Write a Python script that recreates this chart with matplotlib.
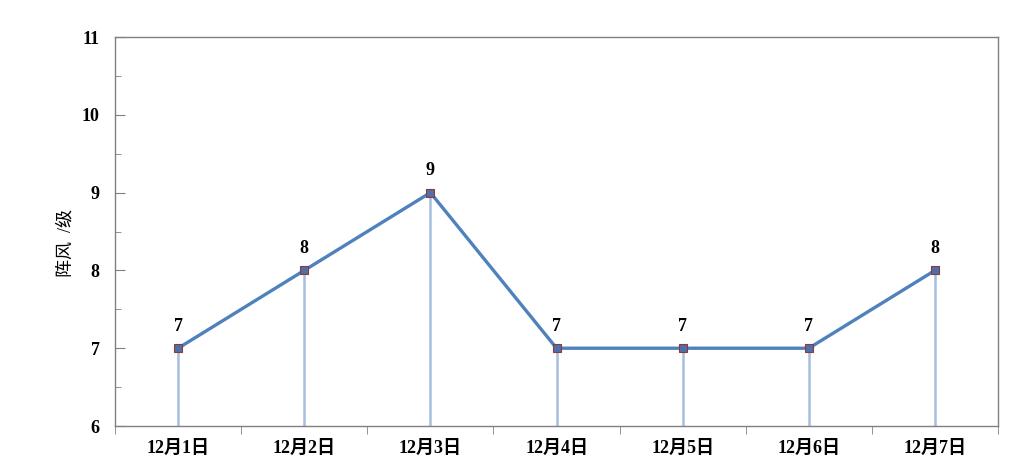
import matplotlib.pyplot as plt
from matplotlib.ticker import MultipleLocator, FixedLocator

plt.rcParams['font.family'] = ['Liberation Serif', 'Noto Sans CJK SC', 'DejaVu Sans']

# data
dates = ['12月1日', '12月2日', '12月3日', '12月4日', '12月5日', '12月6日', '12月7日']
gust = [7, 8, 9, 7, 7, 7, 8]

x = list(range(len(dates)))

fig = plt.figure(figsize=(10.19, 4.68), dpi=100)
ax = fig.add_axes([0.1129, 0.0897, 0.8665, 0.8312])

# drop lines from each point to the bottom
ax.vlines(x, 6, gust, color='#A7BFDE', linewidth=1.8, zorder=2)
ax.plot(x, gust, color='#4F81BD', linewidth=2.4, marker='s', markersize=6,
        markerfacecolor='#4F6FA8', markeredgecolor='#8B3A3A', markeredgewidth=0.8, zorder=3)

for xi, v in zip(x, gust):
    ax.text(xi, v + 0.17, str(v), ha='center', va='bottom', fontsize=13, fontweight='bold')

ax.set_xlim(-0.5, len(dates) - 0.5)
ax.set_ylim(6, 11)

ax.set_xticks(x)
ax.set_xticklabels(dates, fontsize=13, fontweight='bold')
ax.xaxis.set_minor_locator(FixedLocator([i - 0.5 for i in range(len(dates) + 1)]))
ax.tick_params(axis='x', which='major', length=0, pad=10)
ax.tick_params(axis='x', which='minor', length=6, direction='out', color='#808080')

ax.yaxis.set_major_locator(MultipleLocator(1))
ax.yaxis.set_minor_locator(MultipleLocator(0.5))
ax.tick_params(axis='y', which='major', length=7, direction='in', color='#808080', labelsize=13, pad=11)
ax.tick_params(axis='y', which='minor', length=4, direction='in', color='#808080')
for lbl in ax.get_yticklabels():
    lbl.set_fontweight('bold')

ax.set_ylabel('阵风  /级', fontsize=13)
ax.yaxis.set_label_coords(-0.046, 0.47)

for s in ax.spines.values():
    s.set_color('#808080')
    s.set_linewidth(1)

fig.savefig('out.png', dpi=100)
